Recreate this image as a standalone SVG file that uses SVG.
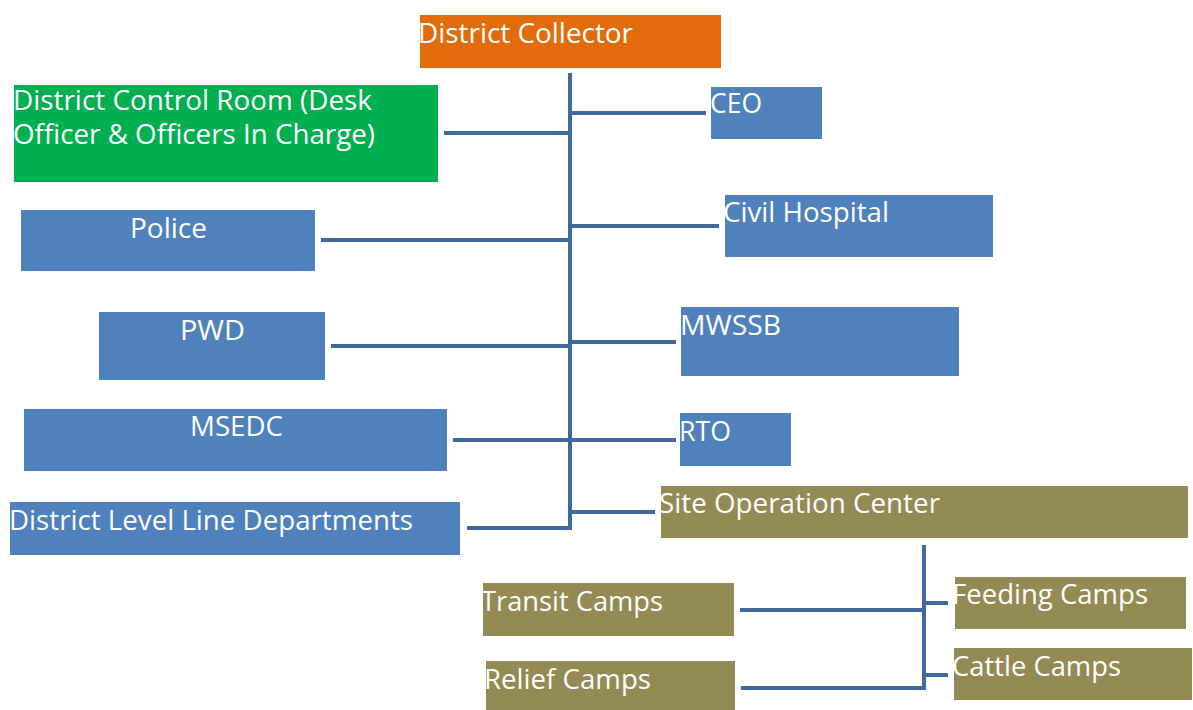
<svg xmlns="http://www.w3.org/2000/svg" width="1193" height="710" viewBox="0 0 1193 710">
<style>
.t{font-family:"Open Sans","Liberation Sans",sans-serif;font-size:27px;fill:#fff}
.c{stroke:#41699B;stroke-width:4;fill:none}
.blue{fill:#4F81BD}
.olive{fill:#948A54}
</style>
<rect width="1193" height="710" fill="#fff"/>
<g id="connectors">
<path class="c" d="M570 73 V528 H467"/>
<path class="c" d="M444 133 H570"/>
<path class="c" d="M570 113 H706"/>
<path class="c" d="M321 240 H570"/>
<path class="c" d="M570 226 H719"/>
<path class="c" d="M331 346 H570"/>
<path class="c" d="M570 342 H676"/>
<path class="c" d="M453 440 H676"/>
<path class="c" d="M570 512 H655"/>
<path class="c" d="M924 545 V688 H741"/>
<path class="c" d="M740 610 H924"/>
<path class="c" d="M924 603 H948"/>
<path class="c" d="M924 675 H948"/>
</g>
<g id="district-collector"><rect x="420" y="15" width="301" height="53" fill="#E36C0A"/><text class="t" x="418" y="43" textLength="215" lengthAdjust="spacingAndGlyphs">District Collector</text></g>
<g id="control-room"><rect x="14" y="85" width="424" height="97" fill="#00B050"/><text class="t" x="13" y="110" textLength="359" lengthAdjust="spacingAndGlyphs">District Control Room (Desk</text><text class="t" x="13" y="144" textLength="362" lengthAdjust="spacingAndGlyphs">Officer &amp; Officers In Charge)</text></g>
<g id="ceo"><rect class="blue" x="711" y="87" width="111" height="52"/><text class="t" x="710" y="113" textLength="52" lengthAdjust="spacingAndGlyphs">CEO</text></g>
<g id="police"><rect class="blue" x="21" y="210" width="294" height="61"/><text class="t" x="130" y="238" textLength="77" lengthAdjust="spacingAndGlyphs">Police</text></g>
<g id="civil-hospital"><rect class="blue" x="725" y="195" width="268" height="62"/><text class="t" x="723" y="222" textLength="166" lengthAdjust="spacingAndGlyphs">Civil Hospital</text></g>
<g id="pwd"><rect class="blue" x="99" y="312" width="226" height="68"/><text class="t" x="180" y="340" textLength="65" lengthAdjust="spacingAndGlyphs">PWD</text></g>
<g id="mwssb"><rect class="blue" x="681" y="307" width="278" height="69"/><text class="t" x="680" y="335" textLength="101" lengthAdjust="spacingAndGlyphs">MWSSB</text></g>
<g id="msedc"><rect class="blue" x="24" y="409" width="423" height="62"/><text class="t" x="190" y="436" textLength="93" lengthAdjust="spacingAndGlyphs">MSEDC</text></g>
<g id="rto"><rect class="blue" x="680" y="413" width="111" height="53"/><text class="t" x="679" y="441" textLength="52" lengthAdjust="spacingAndGlyphs">RTO</text></g>
<g id="line-departments"><rect class="blue" x="10" y="502" width="450" height="53"/><text class="t" x="9" y="530" textLength="404" lengthAdjust="spacingAndGlyphs">District Level Line Departments</text></g>
<g id="site-operation-center"><rect class="olive" x="661" y="486" width="527" height="52"/><text class="t" x="659" y="513" textLength="281" lengthAdjust="spacingAndGlyphs">Site Operation Center</text></g>
<g id="transit-camps"><rect class="olive" x="483" y="583" width="251" height="53"/><text class="t" x="481" y="611" textLength="182" lengthAdjust="spacingAndGlyphs">Transit Camps</text></g>
<g id="feeding-camps"><rect class="olive" x="955" y="577" width="231" height="52"/><text class="t" x="952" y="604" textLength="196" lengthAdjust="spacingAndGlyphs">Feeding Camps</text></g>
<g id="relief-camps"><rect class="olive" x="486" y="661" width="249" height="49"/><text class="t" x="484" y="689" textLength="167" lengthAdjust="spacingAndGlyphs">Relief Camps</text></g>
<g id="cattle-camps"><rect class="olive" x="954" y="648" width="238" height="52"/><text class="t" x="952" y="676" textLength="169" lengthAdjust="spacingAndGlyphs">Cattle Camps</text></g>
</svg>
